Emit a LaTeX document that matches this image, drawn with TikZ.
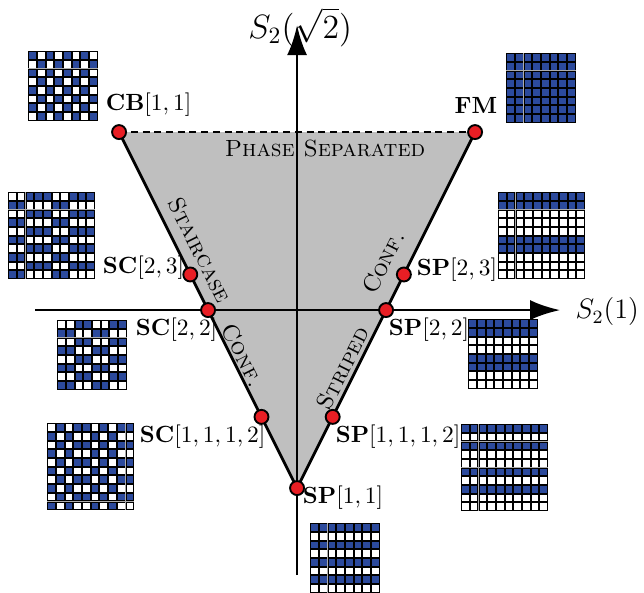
\documentclass[tikz,border=0pt]{standalone}
\usepackage{amsmath}
\usepackage{amssymb}
\usetikzlibrary{arrows.meta}

\definecolor{spinblue}{RGB}{44,74,156}
\definecolor{dotred}{RGB}{232,30,36}
\colorlet{spinb}{spinblue}
\colorlet{spinw}{white}

% lattice snapshot: #1 top-left corner, #2 rows of b/w cells
\newcommand{\spinlattice}[2]{%
  \begin{scope}[shift={#1}]
    \foreach \row [count=\r] in {#2} {
      \foreach \s [count=\k] in \row {
        \fill[gap] ({(\k-1)*0.1305cm},{-(\r-1)*0.1305cm}) rectangle ++(0.1305cm,-0.1305cm);
        \draw[cell, fill=spin\s] ({(\k-1)*0.1305cm+0.008cm},{-(\r-1)*0.1305cm-0.008cm}) rectangle ++(0.1145cm,-0.1145cm);
      }
    }
  \end{scope}}

\begin{document}
\begin{tikzpicture}[
    x=2.67cm, y=2.67cm,
    >={Latex[length=4.5mm, width=3mm]},
    axis/.style={->, very thick},
    edge/.style={very thick},
    phase/.style={circle, draw=black, thick, fill=dotred, inner sep=0pt, minimum size=2.1mm},
    tag/.style={inner sep=1pt, anchor=west},
    region/.style={font=\scshape, inner sep=1pt},
    cell/.style={draw=black, line width=0.35pt},
    gap/.style={gray!65}
]
\useasboundingbox (-1.669,-1.584) rectangle (1.949,1.742);

% corners and transition points
\coordinate (cb) at (-1,1);
\coordinate (fm) at (1,1);
\coordinate (sp11) at (0,-1);
\coordinate (sc23) at (-0.6,0.2);
\coordinate (sc22) at (-0.5,0);
\coordinate (sc1112) at (-0.2,-0.6);
\coordinate (sp23) at (0.6,0.2);
\coordinate (sp22) at (0.5,0);
\coordinate (sp1112) at (0.2,-0.6);
\coordinate (xmin) at (-1.472,0);
\coordinate (xmax) at (1.478,0);
\coordinate (ymin) at (0,-1.489);
\coordinate (ymax) at (0,1.601);

\fill[gray!50] (cb) -- (fm) -- (sp11) -- cycle;

\draw[axis] (xmin) -- (xmax);
\draw[axis] (ymin) -- (ymax);
\node[font=\large, anchor=west, inner sep=0pt] (s1) at (1.562,-0.01) {$S_2(1)$};
\node[font=\Large, anchor=south, inner sep=0pt] (s2) at (0.017,1.478) {$S_2(\sqrt{2})$};

\draw[edge] (cb) -- (sp11) -- (fm);
\draw[thick, dashed, dash pattern=on 3pt off 2pt] (cb) -- (fm);

\node[region] (psep) at (0.157,0.91) {Phase Separated};
\node[region, rotate=-63.4] (stair) at (-0.545,0.337) {Staircase};
\node[region, rotate=-63.4] (confl) at (-0.303,-0.253) {Conf.};
\node[region, rotate=63.4] (confr) at (0.483,0.27) {Conf.};
\node[region, rotate=63.4] (stripe) at (0.258,-0.326) {Striped};

\foreach \p in {cb,fm,sp11,sc23,sc22,sc1112,sp23,sp22,sp1112}
    \node[phase] (dot-\p) at (\p) {};

\node[tag] (lcb) at (-1.09,1.152) {$\mathbf{CB}[1,1]$};
\node[tag, anchor=east] (lfm) at (1.14,1.152) {$\mathbf{FM}$};
\node[tag] (lsc23) at (-1.107,0.236) {$\mathbf{SC}[2,3]$};
\node[tag] (lsc22) at (-0.921,-0.112) {$\mathbf{SC}[2,2]$};
\node[tag] (lsc1112) at (-0.899,-0.713) {$\mathbf{SC}[1,1,1,2]$};
\node[tag] (lsp23) at (0.657,0.225) {$\mathbf{SP}[2,3]$};
\node[tag] (lsp22) at (0.5,-0.112) {$\mathbf{SP}[2,2]$};
\node[tag] (lsp1112) at (0.202,-0.713) {$\mathbf{SP}[1,1,1,2]$};
\node[tag] (lsp11) at (0.017,-1.051) {$\mathbf{SP}[1,1]$};

% snapshots
\spinlattice{(-1.511,1.455)}{{b,w,b,w,b,w,b,w},{w,b,w,b,w,b,w,b},{b,w,b,w,b,w,b,w},{w,b,w,b,w,b,w,b},{b,w,b,w,b,w,b,w},{w,b,w,b,w,b,w,b},{b,w,b,w,b,w,b,w},{w,b,w,b,w,b,w,b}}
\spinlattice{(1.174,1.444)}{{b,b,b,b,b,b,b,b},{b,b,b,b,b,b,b,b},{b,b,b,b,b,b,b,b},{b,b,b,b,b,b,b,b},{b,b,b,b,b,b,b,b},{b,b,b,b,b,b,b,b},{b,b,b,b,b,b,b,b},{b,b,b,b,b,b,b,b}}
\spinlattice{(-1.624,0.663)}{{w,w,b,b,b,w,w,b,b,b},{b,b,w,w,w,b,b,w,w,w},{w,w,b,b,b,w,w,b,b,b},{b,b,w,w,w,b,b,w,w,w},{w,w,b,b,b,w,w,b,b,b},{b,b,w,w,w,b,b,w,w,w},{w,w,b,b,b,w,w,b,b,b},{b,b,w,w,w,b,b,w,w,w},{w,w,b,b,b,w,w,b,b,b},{b,b,w,w,w,b,b,w,w,w}}
\spinlattice{(1.129,0.663)}{{b,b,b,b,b,b,b,b,b,b},{b,b,b,b,b,b,b,b,b,b},{w,w,w,w,w,w,w,w,w,w},{w,w,w,w,w,w,w,w,w,w},{w,w,w,w,w,w,w,w,w,w},{b,b,b,b,b,b,b,b,b,b},{b,b,b,b,b,b,b,b,b,b},{w,w,w,w,w,w,w,w,w,w},{w,w,w,w,w,w,w,w,w,w},{w,w,w,w,w,w,w,w,w,w}}
\spinlattice{(-1.348,-0.056)}{{w,w,b,b,w,w,b,b},{b,b,w,w,b,b,w,w},{w,w,b,b,w,w,b,b},{b,b,w,w,b,b,w,w},{w,w,b,b,w,w,b,b},{b,b,w,w,b,b,w,w},{w,w,b,b,w,w,b,b},{b,b,w,w,b,b,w,w}}
\spinlattice{(0.961,-0.051)}{{b,b,b,b,b,b,b,b},{b,b,b,b,b,b,b,b},{w,w,w,w,w,w,w,w},{w,w,w,w,w,w,w,w},{b,b,b,b,b,b,b,b},{b,b,b,b,b,b,b,b},{w,w,w,w,w,w,w,w},{w,w,w,w,w,w,w,w}}
\spinlattice{(-1.404,-0.635)}{{w,b,w,b,b,w,b,w,b,b},{b,w,b,w,w,b,w,b,w,w},{w,b,w,b,b,w,b,w,b,b},{b,w,b,w,w,b,w,b,w,w},{w,b,w,b,b,w,b,w,b,b},{b,w,b,w,w,b,w,b,w,w},{w,b,w,b,b,w,b,w,b,b},{b,w,b,w,w,b,w,b,w,w},{w,b,w,b,b,w,b,w,b,b},{b,w,b,w,w,b,w,b,w,w}}
\spinlattice{(0.921,-0.640)}{{b,b,b,b,b,b,b,b,b,b},{w,w,w,w,w,w,w,w,w,w},{b,b,b,b,b,b,b,b,b,b},{w,w,w,w,w,w,w,w,w,w},{w,w,w,w,w,w,w,w,w,w},{b,b,b,b,b,b,b,b,b,b},{w,w,w,w,w,w,w,w,w,w},{b,b,b,b,b,b,b,b,b,b},{w,w,w,w,w,w,w,w,w,w},{w,w,w,w,w,w,w,w,w,w}}
\spinlattice{(0.073,-1.197)}{{b,b,b,b,b,b,b,b},{w,w,w,w,w,w,w,w},{b,b,b,b,b,b,b,b},{w,w,w,w,w,w,w,w},{b,b,b,b,b,b,b,b},{w,w,w,w,w,w,w,w},{b,b,b,b,b,b,b,b},{w,w,w,w,w,w,w,w}}

\end{tikzpicture}
\end{document}
